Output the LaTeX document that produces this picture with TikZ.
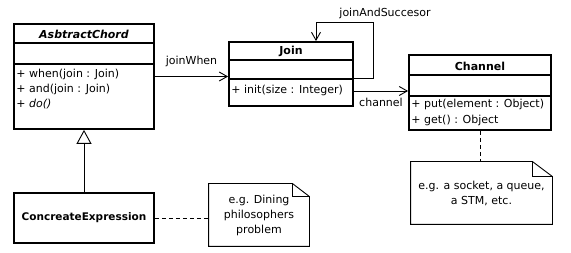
\documentclass[tikz,border=0pt]{standalone}
\usepackage{fontspec}
\setmainfont{DejaVu Sans}
\usetikzlibrary{arrows.meta}
\tikzset{
	classbox/.style={draw,line width=1.8pt,inner sep=0pt},
	classname/.style={inner sep=0pt,font=\fontsize{11}{13}\selectfont\bfseries},
	memb/.style={anchor=west,inner sep=0pt},
	notebox/.style={inner sep=0pt,align=center},
	assoc/.style={-{Straight Barb[length=8pt,width=9pt]}},
	link/.style={dash pattern=on 4pt off 3pt},
}
\begin{document}
\fontsize{11}{15}\selectfont
\begin{tikzpicture}[x=1pt,y=-1pt,line width=0.9pt]
		\fill[white] (0,0) rectangle (571,253);
		\useasboundingbox (0,0) rectangle (571,253);
		% classes
		\node[classbox,minimum width=140pt,minimum height=105pt] (chord) at (84,76.5) {};
		\draw[line width=1.8pt] ([yshift=-20pt]chord.north west) -- ([yshift=-20pt]chord.north east);
		\draw[line width=1.8pt] ([yshift=-41pt]chord.north west) -- ([yshift=-41pt]chord.north east);
		\node[classname,font=\fontsize{11}{13}\selectfont\bfseries\itshape] (chordname) at (84,34) {AsbtractChord};
		\node[memb] (when) at (16,74) {+ when(join : Join)};
		\node[memb] (and) at (16,89) {+ and(join : Join)};
		\node[memb] (do) at (16,104) {+ \textit{do()}};
		\node[classbox,minimum width=124pt,minimum height=64pt] (join) at (291,74) {};
		\draw[line width=1.8pt] ([yshift=-19pt]join.north west) -- ([yshift=-19pt]join.north east);
		\draw[line width=1.8pt] ([yshift=-38pt]join.north west) -- ([yshift=-38pt]join.north east);
		\node[classname] (joinname) at (291,51.5) {Join};
		\node[memb] (init) at (231,90) {+ init(size : Integer)};
		\node[classbox,minimum width=142pt,minimum height=75pt] (channel) at (480,92.5) {};
		\draw[line width=1.8pt] ([yshift=-21pt]channel.north west) -- ([yshift=-21pt]channel.north east);
		\draw[line width=1.8pt] ([yshift=-42pt]channel.north west) -- ([yshift=-42pt]channel.north east);
		\node[classname] (channelname) at (480,66) {Channel};
		\node[memb] (put) at (411,104) {+ put(element : Object)};
		\node[memb] (get) at (411,120) {+ get() : Object};
		\node[classbox,minimum width=140pt,minimum height=50pt,font=\fontsize{10.5}{12}\selectfont\bfseries] (concrete) at (84,218) {ConcreateExpression};
		% notes
		\node[notebox,minimum width=141pt,minimum height=62pt] (chnote) at (481.5,193) {e.g. a socket, a queue,\\a STM, etc.};
		\draw (chnote.north west) -- ([xshift=-20pt]chnote.north east) -- ([yshift=-15pt]chnote.north east) -- (chnote.south east) -- (chnote.south west) -- cycle;
		\draw ([xshift=-20pt]chnote.north east) |- ([yshift=-15pt]chnote.north east);
		\node[notebox,minimum width=100pt,minimum height=62pt] (phnote) at (259,215) {e.g. Dining\\philosophers\\problem};
		\draw (phnote.north west) -- ([xshift=-17pt]phnote.north east) -- ([yshift=-13pt]phnote.north east) -- (phnote.south east) -- (phnote.south west) -- cycle;
		\draw ([xshift=-17pt]phnote.north east) |- ([yshift=-13pt]phnote.north east);
		% connectors
		\draw[assoc] (chord.east) -- (chord.east -| join.west) node[midway,above=6pt] (whenlabel) {joinWhen};
		\coordinate (loopcorner) at (373,22);
		\draw[assoc] ([yshift=-4pt]join.east) -| (loopcorner) -| ([xshift=25pt]join.north);
		\node (succlabel) at (385,13) {joinAndSuccesor};
		\coordinate (joinout) at ([yshift=-17pt]join.east);
		\draw[assoc] (joinout) -- (joinout -| channel.west) node[midway,below=3pt] (chlabel) {channel};
		\draw[-{Triangle[open,length=14pt,width=15pt]}] (concrete.north) -- (chord.south);
		\draw[link] (channel.south) -- (channel.south |- chnote.north);
		\draw[link] (concrete.east) -- (concrete.east -| phnote.west);
	\end{tikzpicture}
\end{document}
